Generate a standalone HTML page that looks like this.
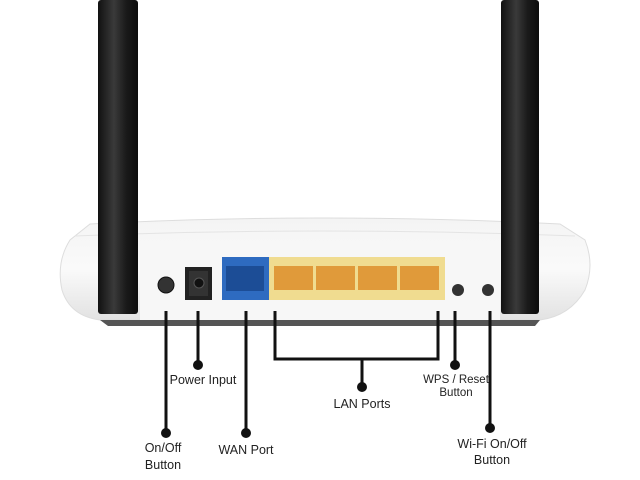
<!DOCTYPE html>
<html><head><meta charset="utf-8"><style>html,body{margin:0;padding:0;background:#fff}svg{display:block}</style></head>
<body>
<svg width="640" height="480" viewBox="0 0 640 480" xmlns="http://www.w3.org/2000/svg" font-family="'Liberation Sans', sans-serif">
<defs>
<linearGradient id="ant" x1="0" x2="1"><stop offset="0" stop-color="#111"/><stop offset="0.4" stop-color="#3a3a3a"/><stop offset="0.7" stop-color="#1a1a1a"/><stop offset="1" stop-color="#0c0c0c"/></linearGradient>
<linearGradient id="body" x1="0" y1="0" x2="0" y2="1"><stop offset="0" stop-color="#f4f4f4"/><stop offset="0.5" stop-color="#fafafa"/><stop offset="1" stop-color="#e2e2e2"/></linearGradient>
</defs>
<!-- body -->
<path d="M90 224 Q320 212 560 224 L585 240 Q595 265 585 290 Q570 316 540 320 L100 320 Q70 316 62 290 Q56 262 70 240 Z" fill="url(#body)" stroke="#ddd"/>
<path d="M75 236 Q320 226 575 236" stroke="#e4e4e4" fill="none"/>
<path d="M100 320 L540 320 L535 326 L108 326 Z" fill="#555"/>
<rect x="140" y="246" width="360" height="74" fill="#f7f7f7"/>
<!-- antennas -->
<rect x="98" y="0" width="40" height="314" rx="3" fill="url(#ant)"/>
<rect x="501" y="0" width="38" height="314" rx="3" fill="url(#ant)"/>
<!-- buttons -->
<circle cx="166" cy="285" r="8" fill="#333" stroke="#111"/>
<rect x="185" y="267" width="27" height="33" fill="#222"/>
<rect x="189" y="271" width="19" height="25" fill="#333"/>
<circle cx="199" cy="283" r="5" fill="#111" stroke="#555"/>
<circle cx="458" cy="290" r="6" fill="#333"/>
<circle cx="488" cy="290" r="6" fill="#333"/>
<!-- ports -->
<rect x="222" y="257" width="47" height="43" fill="#2e6bc0"/>
<rect x="269" y="257" width="176" height="43" fill="#f0dc90"/>
<rect x="226" y="266" width="38" height="25" fill="#1c4d96"/>
<rect x="274" y="266" width="39" height="24" fill="#e09a3a"/>
<rect x="316" y="266" width="39" height="24" fill="#e09a3a"/>
<rect x="358" y="266" width="39" height="24" fill="#e09a3a"/>
<rect x="400" y="266" width="39" height="24" fill="#e09a3a"/>
<!-- connectors -->
<g stroke="#111" stroke-width="3" fill="none">
<path d="M166 311 V433"/>
<path d="M198 311 V365"/>
<path d="M246 311 V433"/>
<path d="M275 311 V359 H438 V311"/>
<path d="M362 359 V387"/>
<path d="M455 311 V365"/>
<path d="M490 311 V428"/>
</g>
<g fill="#111">
<circle cx="166" cy="433" r="5"/><circle cx="198" cy="365" r="5"/><circle cx="246" cy="433" r="5"/>
<circle cx="362" cy="387" r="5"/><circle cx="455" cy="365" r="5"/><circle cx="490" cy="428" r="5"/>
</g>
<g font-size="12.5" fill="#222" text-anchor="middle">
<text x="203" y="384">Power Input</text>
<text x="163" y="452">On/Off</text><text x="163" y="469">Button</text>
<text x="246" y="454">WAN Port</text>
<text x="362" y="408">LAN Ports</text>
<text x="456" y="383" font-size="11.5">WPS / Reset</text><text x="456" y="396" font-size="11.5">Button</text>
<text x="492" y="448">Wi-Fi On/Off</text><text x="492" y="464">Button</text>
</g>
</svg>
</body></html>
